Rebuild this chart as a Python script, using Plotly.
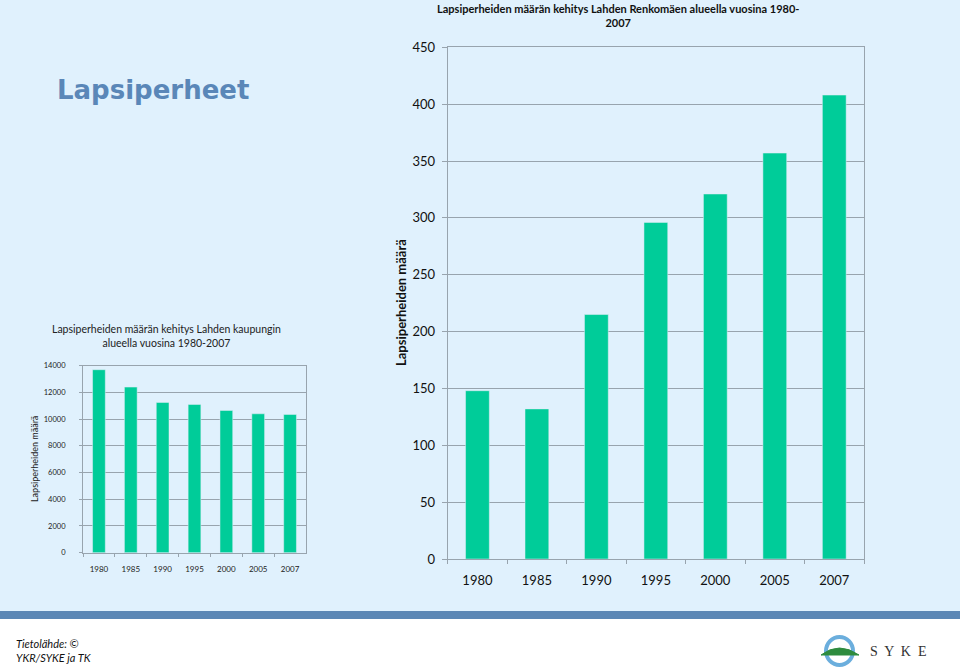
import plotly.graph_objects as go

years = ["1980", "1985", "1990", "1995", "2000", "2005", "2007"]
lahti_values = [13700, 12400, 11250, 11100, 10650, 10400, 10350]
renkomaki_values = [148, 132, 215, 296, 321, 357, 408]

lahti_ticks = [0, 2000, 4000, 6000, 8000, 10000, 12000, 14000]
renko_ticks = [0, 50, 100, 150, 200, 250, 300, 350, 400, 450]

W, H = 960, 672
BG = "#E0F1FD"
BAR = "#00CC99"
GRID = "#98A4AE"
FONT = "Lato, 'Open Sans', sans-serif"


def px(x):
    return x / W


def py(y):
    return 1 - y / H


fig = go.Figure()

fig.add_trace(go.Bar(x=years, y=lahti_values, marker_color=BAR, width=0.4,
                     xaxis="x", yaxis="y", showlegend=False))
fig.add_trace(go.Bar(x=years, y=renkomaki_values, marker_color=BAR, width=0.4,
                     xaxis="x2", yaxis="y2", showlegend=False))

fig.update_layout(
    width=W, height=H,
    margin=dict(l=0, r=0, t=0, b=0, pad=0, autoexpand=False),
    paper_bgcolor=BG, plot_bgcolor="rgba(0,0,0,0)",
    font=dict(family=FONT, color="#222222"),
    xaxis=dict(domain=[px(83), px(306)], anchor="y", type="category",
               showline=True, linecolor=GRID, linewidth=1, mirror=True,
               ticks="outside", tickson="boundaries", ticklen=3, tickcolor=GRID,
               showgrid=False, tickfont=dict(size=8, color="#222"),
               ticklabelstandoff=9, automargin=False),
    yaxis=dict(domain=[py(552.7), py(365.7)], anchor="x", range=[0, 14000],
               tickvals=lahti_ticks, tickformat="d", showline=True, linecolor=GRID,
               linewidth=1, mirror=True, ticks="outside", ticklen=3, tickcolor=GRID,
               showgrid=True, gridcolor=GRID, gridwidth=1, zeroline=False,
               tickfont=dict(size=7.5, color="#222"), ticklabelstandoff=12,
               automargin=False),
    xaxis2=dict(domain=[px(447.7), px(864)], anchor="y2", type="category",
                showline=True, linecolor=GRID, linewidth=1, mirror=True,
                ticks="outside", tickson="boundaries", ticklen=4, tickcolor=GRID,
                showgrid=False, tickfont=dict(size=13, color="#111"),
                ticklabelstandoff=9, automargin=False),
    yaxis2=dict(domain=[py(559), py(47.3)], anchor="x2", range=[0, 450],
                tickvals=renko_ticks, showline=True, linecolor=GRID, linewidth=1,
                mirror=True, ticks="outside", ticklen=5, tickcolor=GRID,
                showgrid=True, gridcolor=GRID, gridwidth=1, zeroline=False,
                tickfont=dict(size=13, color="#111"), ticklabelstandoff=4,
                automargin=False),
)

shapes = [
    dict(type="rect", xref="paper", yref="paper", x0=0, x1=1, y0=py(619), y1=py(611),
         fillcolor="#5B87B5", line=dict(width=0), layer="below"),
    dict(type="rect", xref="paper", yref="paper", x0=0, x1=1, y0=0, y1=py(619),
         fillcolor="#FFFFFF", line=dict(width=0), layer="below"),
    # SYKE logo ring
    dict(type="circle", xref="paper", yref="paper", x0=px(826), x1=px(853),
         y0=py(665), y1=py(637), line=dict(color="#6BAEDD", width=4),
         fillcolor="rgba(0,0,0,0)"),
]
# green hill of the logo
hill = (f"M {px(821)},{py(655)} Q {px(839)},{py(641)} {px(859)},{py(655)} Z")
shapes.append(dict(type="path", xref="paper", yref="paper", path=hill,
                   fillcolor="#2E8B3E", line=dict(color="#2E8B3E", width=1)))
fig.update_layout(shapes=shapes)

ann = [
    dict(x=px(153), y=py(90), text="<b>Lapsiperheet</b>", showarrow=False,
         xref="paper", yref="paper", xanchor="center", yanchor="middle",
         font=dict(family="'DejaVu Sans', sans-serif", size=26, color="#5A87B8")),
    dict(x=px(618), y=py(15), text="<b>Lapsiperheiden määrän kehitys Lahden Renkomäen alueella vuosina 1980-<br>2007</b>",
         showarrow=False, xref="paper", yref="paper", xanchor="center", yanchor="middle",
         font=dict(size=11, color="#111")),
    dict(x=px(401), y=py(303), text="<b>Lapsiperheiden määrä</b>", textangle=-90,
         showarrow=False, xref="paper", yref="paper", xanchor="center", yanchor="middle",
         font=dict(size=13, color="#111")),
    dict(x=px(166), y=py(336), text="Lapsiperheiden määrän kehitys Lahden kaupungin<br>alueella vuosina 1980-2007",
         showarrow=False, xref="paper", yref="paper", xanchor="center", yanchor="middle",
         font=dict(size=10.5, color="#222")),
    dict(x=px(34), y=py(459), text="Lapsiperheiden määrä", textangle=-90,
         showarrow=False, xref="paper", yref="paper", xanchor="center", yanchor="middle",
         font=dict(size=9, color="#222")),
    dict(x=px(14), y=py(650), text="<i>Tietolähde: ©<br>YKR/SYKE ja TK</i>",
         showarrow=False, xref="paper", yref="paper", xanchor="left", yanchor="middle",
         align="left", font=dict(size=11, color="#111")),
    dict(x=px(868), y=py(651), text="S  Y  K  E", showarrow=False,
         xref="paper", yref="paper", xanchor="left", yanchor="middle",
         font=dict(family="'Liberation Serif', 'DejaVu Serif', serif", size=14, color="#333")),
]
fig.update_layout(annotations=ann)

fig.write_html("out.html", config={"displayModeBar": False},
               post_script="document.body.style.margin='0';document.body.style.overflow='hidden';")
